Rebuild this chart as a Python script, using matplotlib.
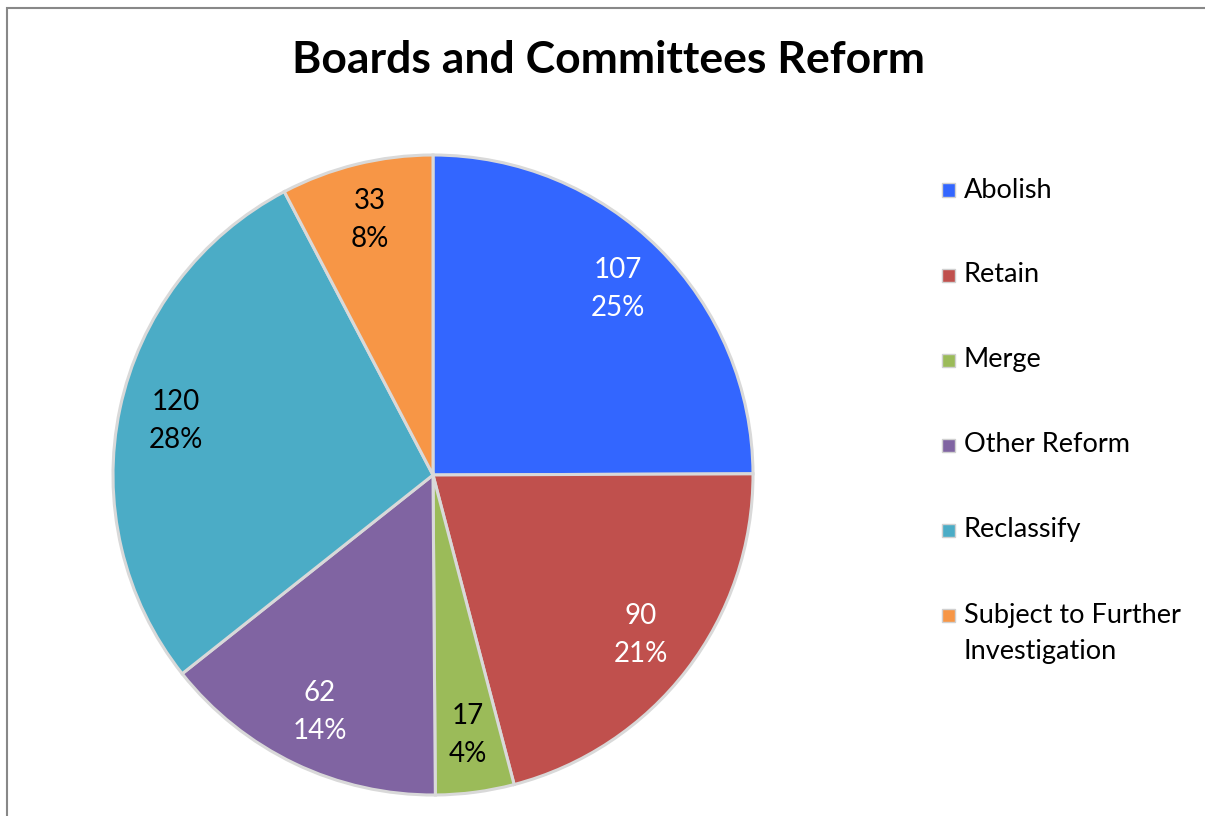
import matplotlib
matplotlib.use("Agg")
import matplotlib.pyplot as plt
from matplotlib.patches import Rectangle

categories = ["Abolish", "Retain", "Merge", "Other Reform", "Reclassify",
              "Subject to Further\nInvestigation"]
values = [107, 90, 17, 62, 120, 33]
colors = ["#3366FF", "#C0504D", "#9BBB59", "#8064A2", "#4BACC6", "#F79646"]
label_colors = ["white", "white", "black", "white", "black", "black"]
title = "Boards and Committees Reform"

W, H = 1205, 816
plt.rcParams['font.family'] = ['Lato', 'DejaVu Sans']
fig = plt.figure(figsize=(W / 100, H / 100), dpi=100)

cx, cy, r = 433, 475, 320
ax = fig.add_axes([(cx - r) / W, (H - cy - r) / H, 2 * r / W, 2 * r / H])
total = sum(values)
wedges, texts, autotexts = ax.pie(
    values, colors=colors, startangle=90, counterclock=False,
    wedgeprops=dict(edgecolor="#d9d9d9", linewidth=2.2),
    autopct=lambda p: f"{round(p * total / 100):d}\n{p:.0f}%",
    pctdistance=0.82, textprops=dict(fontsize=20))
for t, c in zip(autotexts, label_colors):
    t.set_color(c)
    t.set_linespacing(1.58)
ax.set_xlim(-1, 1)
ax.set_ylim(-1, 1)
ax.set_aspect("equal")
ax.axis("off")

fig.text(609 / W, 1 - 60 / H, title, ha="center", va="center",
         fontsize=32, fontweight="bold")

# legend
y0, dy = 190, 85
for i, (cat, col) in enumerate(zip(categories, colors)):
    y = y0 + dy * i
    fig.patches.append(Rectangle((942 / W, 1 - (y + 6.5) / H), 13 / W, 13 / H,
                                 transform=fig.transFigure, facecolor=col,
                                 edgecolor="#d0d0d0", linewidth=1))
    for j, ln in enumerate(cat.split("\n")):
        fig.text(964 / W, 1 - (y + 36 * j) / H, ln, ha="left", va="center",
                 fontsize=19.5)

fig.patches.append(Rectangle((7 / W, -0.1), 1.2, 1.1 - 8 / H,
                             transform=fig.transFigure, fill=False,
                             edgecolor="#888888", linewidth=1.5))

fig.savefig("out.png", dpi=100)
